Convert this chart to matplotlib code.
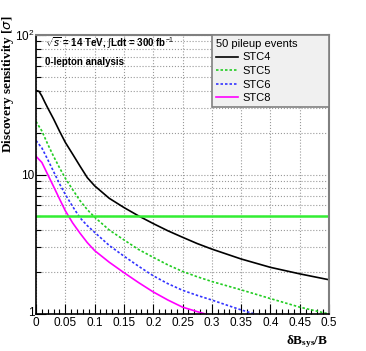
import matplotlib
matplotlib.use("Agg")
import matplotlib.pyplot as plt
import matplotlib.transforms as mtransforms
import numpy as np
from matplotlib.ticker import FixedLocator, LogLocator, NullFormatter, FixedFormatter

plt.rcParams['font.family'] = ['Liberation Sans', 'DejaVu Sans']
plt.rcParams['mathtext.fontset'] = 'custom'
plt.rcParams['mathtext.rm'] = 'Liberation Sans'
plt.rcParams['mathtext.bf'] = 'Liberation Serif:bold'

# data
x_stc4 = [0, 0.005, 0.01, 0.015, 0.02, 0.03, 0.04, 0.05, 0.0625, 0.075, 0.0875, 0.1, 0.125, 0.15,
          0.175, 0.2, 0.225, 0.25, 0.275, 0.3, 0.35, 0.4, 0.45, 0.5]
y_stc4 = [40, 39.5, 36.5, 33, 30, 25, 20.5, 17, 14, 11.5, 9.5, 8.3, 6.75, 5.8,
          5.05, 4.45, 3.95, 3.55, 3.2, 2.92, 2.48, 2.16, 1.94, 1.76]

x_stc5 = [0, 0.01, 0.02, 0.03, 0.04, 0.05, 0.0625, 0.075, 0.0875, 0.1, 0.125, 0.15, 0.175, 0.2,
          0.225, 0.25, 0.275, 0.3, 0.35, 0.4, 0.45, 0.5]
y_stc5 = [24, 20.5, 16.5, 13.5, 11.2, 9.4, 7.8, 6.5, 5.6, 4.95, 4.0, 3.4, 2.9, 2.55,
          2.25, 2.02, 1.85, 1.71, 1.49, 1.29, 1.12, 1.0]

x_stc6 = [0, 0.01, 0.02, 0.03, 0.04, 0.05, 0.0625, 0.075, 0.0875, 0.1, 0.125, 0.15, 0.175, 0.2,
          0.225, 0.25, 0.275, 0.3, 0.325, 0.35, 0.38]
y_stc6 = [17.5, 15.5, 12.8, 10.5, 8.6, 7.2, 5.9, 4.9, 4.3, 3.85, 3.1, 2.6, 2.2, 1.88,
          1.65, 1.48, 1.36, 1.26, 1.16, 1.07, 0.98]

x_stc8 = [0, 0.01, 0.02, 0.03, 0.04, 0.05, 0.0625, 0.075, 0.0875, 0.1, 0.125, 0.15, 0.175, 0.2,
          0.225, 0.25, 0.275, 0.293]
y_stc8 = [13.5, 12.2, 10, 8.2, 6.7, 5.5, 4.5, 3.8, 3.25, 2.85, 2.35, 1.98, 1.68, 1.44,
          1.26, 1.12, 1.04, 0.99]

discovery = 5
xticks = [0, 0.05, 0.1, 0.15, 0.2, 0.25, 0.3, 0.35, 0.4, 0.45, 0.5]
xticklabels = ["0", "0.05", "0.1", "0.15", "0.2", "0.25", "0.3", "0.35", "0.4", "0.45", "0.5"]

fig = plt.figure(figsize=(3.66, 3.51), dpi=100)
ax = fig.add_axes([36/366, 1-314/351, (329-36)/366, (314-35)/351])

ax.plot(x_stc4, y_stc4, color='black', lw=1.2, label='STC4')
ax.plot(x_stc5, y_stc5, color='#22cc22', lw=1.2, ls=(0, (1.5, 1.2)), label='STC5')
ax.plot(x_stc6, y_stc6, color='#3333ff', lw=1.2, ls=(0, (1.5, 1.2)), label='STC6')
ax.plot(x_stc8, y_stc8, color='#ff00ff', lw=1.2, label='STC8')
ax.axhline(discovery, color='#33ee33', lw=1.8)

ax.set_yscale('log')
ax.set_xlim(0, 0.5)
ax.set_ylim(1, 100)

ax.xaxis.set_major_locator(FixedLocator(xticks))
ax.xaxis.set_major_formatter(FixedFormatter(xticklabels))
ax.xaxis.set_minor_locator(FixedLocator(np.arange(0, 0.501, 0.01)))
ax.yaxis.set_major_locator(FixedLocator([1, 10, 100]))
ax.yaxis.set_major_formatter(FixedFormatter(["1", "10", "$10^{2}$"]))
ax.yaxis.set_minor_locator(LogLocator(base=10, subs=np.arange(2, 10)))
ax.yaxis.set_minor_formatter(NullFormatter())

ax.tick_params(which='both', direction='in', top=False, right=False, labelsize=8.5, pad=2)
ax.tick_params(which='major', length=7, width=0.8)
ax.tick_params(which='minor', length=3.5, width=0.8)
ax.tick_params(axis='y', pad=1)

ax.grid(which='major', axis='x', color='#999999', ls=':', lw=0.8)
ax.grid(which='both', axis='y', color='#999999', ls=':', lw=0.8)

for s in ['left', 'bottom']:
    ax.spines[s].set_linewidth(1.2)
for s in ['top', 'right']:
    ax.spines[s].set_color('#808080')
    ax.spines[s].set_linewidth(1.5)

# nudge the "1" label up a little so it clears the "0" of the x axis
fig.canvas.draw()
lab1 = ax.yaxis.get_majorticklabels()[0]
lab1.set_transform(lab1.get_transform() + mtransforms.ScaledTranslation(0, 3/100, fig.dpi_scale_trans))

ax.text(0.03, 0.971, r"$\sqrt{s}$ = 14 TeV, $\int$Ldt = 300 fb$^{-1}$", transform=ax.transAxes,
        fontsize=7, fontweight='bold', va='center', ha='left')
ax.text(0.03, 0.903, "0-lepton analysis", transform=ax.transAxes,
        fontsize=7, fontweight='bold', va='center', ha='left')

leg = ax.legend(title='50 pileup events', loc='upper left',
                bbox_to_anchor=(0.601, 1.0, 0.399, 0.0), mode='expand',
                fontsize=8, title_fontsize=8, alignment='left', fancybox=False,
                framealpha=1, facecolor='#f0f0f0', edgecolor='#808080',
                handlelength=2.0, handletextpad=0.4, labelspacing=0.32,
                borderaxespad=0, borderpad=0.35)
leg.get_frame().set_linewidth(1.2)

fig.text(8/366, 1-16/351, r"Discovery sensitivity [$\sigma$]", rotation=90, ha='center', va='top',
         fontsize=9.5, fontweight='bold', family='Liberation Serif')
fig.text(328/366, 1-342/351, r"$\mathbf{\delta B_{sys}/B}$", ha='right', va='center', fontsize=9.5)

fig.savefig('out.png', dpi=100)
